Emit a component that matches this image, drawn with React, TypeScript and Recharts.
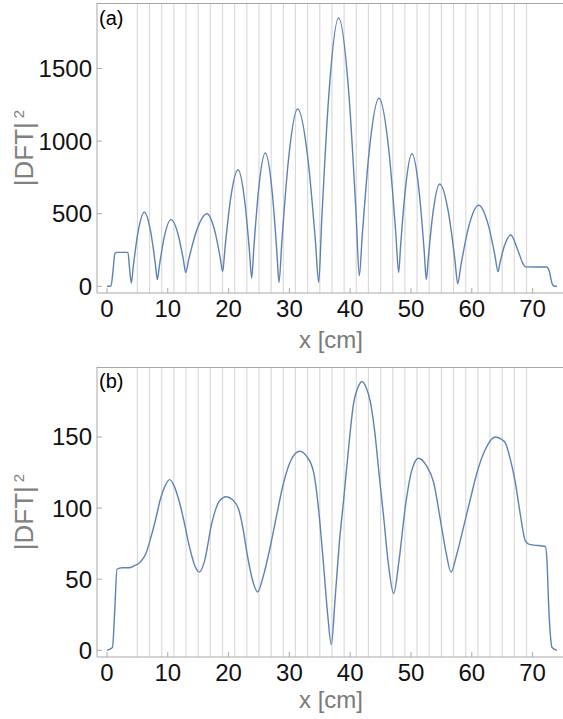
import React from 'react';
import { Line, LineChart, ReferenceLine, XAxis, YAxis } from 'recharts';

const topX = [
  0, 0.66, 1.0, 1.3, 1.6, 3.45, 3.7, 4.0, 4.32, 5.07, 6.14, 7.21, 7.96, 8.28, 8.62, 9.4, 10.53, 11.74, 12.58,
  12.94, 13.47, 14.7, 16.45, 17.74, 18.64, 19.03, 19.41, 20.29, 21.55, 22.68, 23.46, 23.8, 24.14, 24.92, 26.04,
  27.17, 27.95, 28.29, 28.75, 29.83, 31.36, 33.09, 34.3, 34.82, 35.31, 36.46, 38.1, 39.8, 40.99, 41.5, 41.99,
  43.12, 44.74, 46.36, 47.49, 47.97, 48.3, 49.07, 50.16, 51.34, 52.17, 52.52, 52.85, 53.62, 54.72, 56.2, 57.24,
  57.68, 58.2, 59.4, 61.13, 62.72, 63.83, 64.31, 64.62, 65.36, 66.4, 67.55, 68.5, 68.9, 72.3, 72.7, 73.2, 73.5, 74.0,
];
const topY = [
  0, 2, 110, 225, 234, 234, 130, 23, 135, 364, 510, 371, 153, 46, 141, 335, 459, 350, 179,
  96, 189, 379, 500, 380, 193, 101, 262, 592, 803, 579, 229, 57, 255, 660, 918,
  651, 232, 27, 302, 863, 1221, 863, 302, 27, 446, 1302, 1848, 1316, 481, 73, 354,
  928, 1295, 935, 372, 96, 284, 668, 913, 653, 245, 46, 198, 507, 705, 499, 176,
  18, 142, 396, 558, 421, 206, 101, 159, 277, 353, 252, 150, 134, 133, 110, 20, 2, 0,
];

// panel (b)
const bottomX = [
  0, 0.9, 1.3, 1.64, 2.5, 3.57, 4.5, 5.48, 6.4, 7.13, 8.0, 8.77, 9.6, 10.3, 11.0, 11.8, 12.6, 13.5, 14.4, 15.2,
  16.0, 17.27, 18.5, 19.63, 20.6, 21.66, 22.4, 23.0, 23.9, 24.78, 25.7, 26.86, 28.0, 29.06, 30.3, 31.69, 32.9,
  34.0, 34.9, 35.64, 36.3, 36.9, 37.5, 38.2, 38.93, 39.8, 40.57, 41.2, 41.94, 42.6, 43.3, 44.0, 44.8, 45.5, 46.3,
  47.15, 48.0, 49.07, 50.1, 51.26, 52.5, 53.73, 54.9, 55.8, 56.58, 57.5, 58.66, 59.8, 60.86, 62.2, 63.87, 65.0,
  65.5, 66.3, 67.16, 68.0, 68.8, 69.5, 70.2, 72.1, 72.4, 72.6, 72.9, 73.2, 74.0,
];
const bottomY = [
  0, 2, 30, 57, 58, 58, 59.5, 62, 68, 78, 92, 106, 116, 120, 116, 106, 92, 74, 60, 55,
  62, 90, 105, 108, 106, 99, 85, 69, 50, 41, 52, 73, 97, 118, 134, 140, 136,
  125, 95, 59, 25, 4, 35, 75, 106, 145, 174, 184, 189, 185, 175, 155, 122, 94, 60,
  40, 62, 101, 126, 135, 130, 118, 90, 68, 55, 67, 87, 107, 125, 141, 150, 148,
  146, 135, 118, 95, 77, 74.5, 74, 73, 60, 36, 12, 2, 0,
];

const xTicks = [0, 10, 20, 30, 40, 50, 60, 70];
const topTicks = [0, 500, 1000, 1500];
const bottomTicks = [0, 50, 100, 150];
const gridXs = [5, 7, 9, 11, 13, 15, 17, 19, 21, 23, 25, 27, 29, 31, 33, 35, 37, 39, 41, 43, 45, 47, 49, 51, 53, 55, 57, 59, 61, 63, 65, 67, 69];

const FONT = '"Liberation Sans", Arial, sans-serif';
const FRAME = '#a8a8a8';
const tickStyle = { fontSize: 24, fill: '#111', fontFamily: FONT };

function toRows(xs: number[], ys: number[]) {
  return xs.map((x, i) => ({ x, v: ys[i] }));
}

interface PanelProps {
  top: number;
  rows: { x: number; v: number }[];
  yDomain: [number, number];
  yTicks: number[];
}

function Panel({ top, rows, yDomain, yTicks }: PanelProps) {
  return (
    <div style={{ position: 'absolute', left: 0, top }}>
      <LineChart width={563} height={333} data={rows} margin={{ top: 3, right: 0, left: 0, bottom: 0 }}>
        <XAxis
          dataKey="x"
          type="number"
          domain={[-1.64, 75]}
          ticks={xTicks}
          height={40}
          tick={tickStyle}
          tickSize={-5}
          tickMargin={12}
          tickLine={{ stroke: FRAME }}
          axisLine={{ stroke: FRAME }}
        />
        <YAxis
          type="number"
          domain={yDomain}
          ticks={yTicks}
          width={97}
          tick={tickStyle}
          tickSize={-5}
          tickMargin={10}
          tickLine={{ stroke: FRAME }}
          axisLine={{ stroke: FRAME }}
        />
        {gridXs.map((g) => (
          <ReferenceLine key={`grid-${g}`} x={g} stroke="#dadada" strokeWidth={1.2} />
        ))}
        <Line
          type="monotone"
          dataKey="v"
          stroke="#5e81b5"
          strokeWidth={1.4}
          dot={false}
          isAnimationActive={false}
        />
      </LineChart>
    </div>
  );
}

function YLabel({ cy }: { cy: number }) {
  return (
    <div
      style={{
        position: 'absolute',
        left: 24,
        top: cy,
        transform: 'translate(-50%, -50%) rotate(-90deg)',
        whiteSpace: 'nowrap',
        fontSize: 26,
        lineHeight: 1,
        color: '#808080',
      }}
    >
      |DFT|<span style={{ fontSize: 15, verticalAlign: 'super', marginLeft: 4 }}>2</span>
    </div>
  );
}

function XLabel({ cy }: { cy: number }) {
  return (
    <div
      style={{
        position: 'absolute',
        left: 331,
        top: cy,
        transform: 'translate(-50%, -50%)',
        whiteSpace: 'nowrap',
        fontSize: 24,
        lineHeight: 1,
        color: '#7a7a7a',
      }}
    >
      x [cm]
    </div>
  );
}

function Tag({ text, y }: { text: string; y: number }) {
  return (
    <div style={{ position: 'absolute', left: 99, top: y, fontSize: 20, lineHeight: 1, color: '#000' }}>{text}</div>
  );
}

export default function App() {
  return (
    <div
      style={{
        position: 'absolute',
        left: 0,
        top: 0,
        width: 563,
        height: 719,
        background: '#fff',
        fontFamily: FONT,
        overflow: 'hidden',
      }}
    >
      <Panel top={0} rows={toRows(topX, topY)} yDomain={[-46, 1951]} yTicks={topTicks} />
      <Panel top={364} rows={toRows(bottomX, bottomY)} yDomain={[-4.7, 199.2]} yTicks={bottomTicks} />
      <div style={{ position: 'absolute', left: 97, top: 3, width: 466, height: 1, background: FRAME }} />
      <div style={{ position: 'absolute', left: 97, top: 367, width: 466, height: 1, background: FRAME }} />
      <Tag text="(a)" y={8} />
      <Tag text="(b)" y={371} />
      <YLabel cy={148} />
      <YLabel cy={512} />
      <XLabel cy={340} />
      <XLabel cy={700} />
    </div>
  );
}
